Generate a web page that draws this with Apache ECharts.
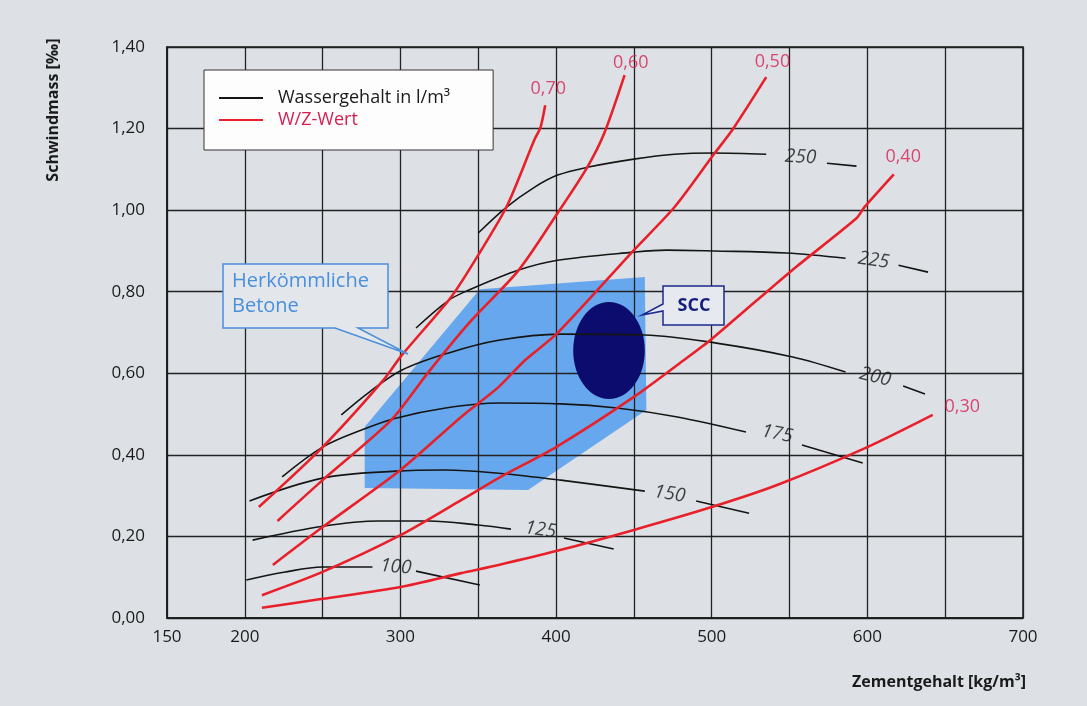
<!DOCTYPE html>
<html>
<head>
<meta charset="utf-8">
<script src="https://cdn.jsdelivr.net/npm/echarts@6/dist/echarts.min.js"></script>
<style>html,body{margin:0;padding:0;background:#dde1e6}#c{width:1087px;height:706px}</style>
</head>
<body>
<div id="c"></div>
<script>
// ---- tick labels ----
const xTickLabels = [150, 200, 300, 400, 500, 600, 700];
const yTickMin = 0, yTickMax = 1.4, yTickStep = 0.2;

// ---- water content curves (Wassergehalt in l/m³), null = gap for label ----
const water250 = [[350,0.944],[368,1.007],[386,1.056],[401,1.086],[420,1.105],[450,1.125],[476,1.137],[501,1.140],[535,1.137],null,[574,1.115],[593,1.108]];
const water225 = [[310,0.711],[331,0.779],[344,0.804],[376,0.853],[401,0.877],[450,0.897],[471,0.902],[501,0.900],[548,0.895],[586,0.882],null,[620,0.865],[639,0.848]];
const water200 = [[262,0.498],[280,0.554],[301,0.608],[331,0.650],[363,0.681],[403,0.696],[457,0.694],[503,0.674],[552,0.640],[586,0.603],null,[623,0.569],[637,0.549]];
const water175 = [[224,0.346],[250,0.419],[275,0.461],[297,0.490],[329,0.515],[363,0.527],[403,0.525],[439,0.515],[478,0.493],[522,0.456],null,[558,0.424],[597,0.380]];
const water150 = [[203,0.287],[250,0.343],[297,0.360],[329,0.363],[363,0.355],[403,0.338],[457,0.311],null,[490,0.287],[524,0.257]];
const water125 = [[205,0.191],[250,0.225],[286,0.238],[318,0.238],[350,0.228],[371,0.218],null,[405,0.196],[437,0.169]];
const water100 = [[201,0.093],[225,0.112],[250,0.125],[282,0.125],null,[310,0.115],[351,0.081]];
const waterCurves = [water250, water225, water200, water175, water150, water125, water100];
const waterLabelText = ['250','225','200','175','150','125','100'];
const waterLabelX = [557, 604, 605, 542, 473, 390, 297];
const waterLabelY = [1.130, 0.877, 0.591, 0.451, 0.304, 0.216, 0.125];
const waterLabelAngle = [-3, -8, -14, -11, -9, -8, -5];

// ---- W/Z curves ----
const wz70 = [[209,0.272],[250,0.419],[289,0.583],[301,0.645],[331,0.779],[344,0.853],[368,1.007],[386,1.172],[390,1.203],[393,1.257]];
const wz60 = [[221,0.238],[250,0.338],[294,0.485],[318,0.603],[344,0.723],[376,0.853],[401,0.993],[420,1.105],[431,1.189],[444,1.331]];
const wz50 = [[218,0.130],[250,0.223],[300,0.363],[339,0.493],[363,0.566],[380,0.632],[401,0.699],[450,0.902],[476,1.007],[501,1.135],[514,1.201],[535,1.326]];
const wz40 = [[211,0.056],[250,0.113],[300,0.203],[339,0.289],[363,0.343],[400,0.419],[450,0.542],[482,0.632],[499,0.681],[529,0.779],[554,0.860],[593,0.980],[598,1.007],[617,1.088]];
const wz30 = [[211,0.025],[250,0.047],[300,0.076],[339,0.110],[363,0.130],[400,0.164],[450,0.216],[500,0.272],[542,0.326],[600,0.419],[642,0.498]];
const wzCurves = [wz70, wz60, wz50, wz40, wz30];
const wzLabelText = ['0,70','0,60','0,50','0,40','0,30'];
const wzLabelX = [395, 448, 539, 623, 661];
const wzLabelY = [1.297, 1.360, 1.363, 1.130, 0.517];

// ---- regions ----
const regionX = [277, 351, 457, 458, 382, 277];
const regionY = [0.468, 0.806, 0.836, 0.510, 0.314, 0.319];
const sccCenter = [434, 0.656];
const sccRadius = [23, 0.119];

const FONT = 'Open Sans';
const WATER_NAME = 'Wassergehalt in l/m³';
const WZ_NAME = 'W/Z-Wert';
const RED = '#e8202a';
const RED_TEXT = '#d81e50';
const BLACK = '#151515';

const chart = echarts.init(document.getElementById('c'), null, {renderer: 'canvas'});

const series = [];
series.push({
  type: 'custom', name: 'region', coordinateSystem: 'cartesian2d', z: 0, silent: true,
  data: [[regionX[0], regionY[0]]],
  renderItem: (p, api) => ({
    type: 'polygon',
    shape: {points: regionX.map((x, i) => api.coord([x, regionY[i]]))},
    style: {fill: '#67a7ed'}
  })
});
series.push({
  type: 'custom', name: 'scc', coordinateSystem: 'cartesian2d', z: 2, silent: true,
  data: [sccCenter],
  renderItem: (p, api) => {
    const c = api.coord(sccCenter);
    const s = api.size(sccRadius);
    return {type: 'ellipse', shape: {cx: c[0], cy: c[1], rx: s[0], ry: s[1]}, style: {fill: '#0c0c6e'}};
  }
});
waterCurves.forEach(d => series.push({
  type: 'line', name: WATER_NAME, data: d, smooth: 0.35, showSymbol: false, symbol: 'none',
  z: 3, connectNulls: false, silent: true,
  lineStyle: {color: BLACK, width: 1.6}, itemStyle: {color: BLACK}
}));
wzCurves.forEach(d => series.push({
  type: 'line', name: WZ_NAME, data: d, smooth: 0.25, showSymbol: false, symbol: 'none',
  z: 3, silent: true,
  lineStyle: {color: RED, width: 2.6}, itemStyle: {color: RED}
}));
series.push({
  type: 'scatter', name: 'waterLabels', z: 4, symbolSize: 1, silent: true,
  itemStyle: {color: 'rgba(0,0,0,0)'},
  data: waterLabelText.map((t, i) => ({name: t, value: [waterLabelX[i], waterLabelY[i]], label: {rotate: waterLabelAngle[i]}})),
  label: {show: true, position: 'inside', formatter: p => p.name, fontSize: 19, fontStyle: 'italic', fontFamily: FONT, color: BLACK}
});
series.push({
  type: 'scatter', name: 'wzLabels', z: 4, symbolSize: 1, silent: true,
  itemStyle: {color: 'rgba(0,0,0,0)'},
  data: wzLabelText.map((t, i) => ({name: t, value: [wzLabelX[i], wzLabelY[i]]})),
  label: {show: true, position: 'inside', formatter: p => p.name, fontSize: 18, fontFamily: FONT, color: RED_TEXT}
});

const option = {
  animation: false,
  backgroundColor: '#dde1e6',
  grid: {left: 167, right: 64, top: 47, bottom: 88, show: true, borderColor: '#1a1a1a', borderWidth: 1.5, backgroundColor: 'transparent'},
  xAxis: {
    type: 'value', min: 150, max: 700, interval: 50, z: 1,
    axisLine: {show: true, lineStyle: {color: '#1a1a1a', width: 1.5}},
    axisTick: {show: false},
    splitLine: {show: true, lineStyle: {color: '#222', width: 1.3}},
    axisLabel: {
      margin: 11, fontSize: 17, fontFamily: FONT, color: '#1a1a1a',
      showMinLabel: true, showMaxLabel: true,
      formatter: v => xTickLabels.includes(v) ? String(v) : ''
    }
  },
  yAxis: {
    type: 'value', min: yTickMin, max: yTickMax, interval: yTickStep, z: 1,
    axisLine: {show: true, lineStyle: {color: '#1a1a1a', width: 1.5}},
    axisTick: {show: false},
    splitLine: {show: true, lineStyle: {color: '#222', width: 1.3}},
    axisLabel: {
      margin: 22, fontSize: 17, fontFamily: FONT, color: '#1a1a1a',
      formatter: v => v.toFixed(2).replace('.', ',')
    }
  },
  legend: {
    left: 204, top: 70, orient: 'vertical', z: 10, selectedMode: false,
    data: [{name: WATER_NAME}, {name: WZ_NAME, textStyle: {color: RED_TEXT}}],
    itemWidth: 44, itemHeight: 14, itemGap: 4,
    itemStyle: {opacity: 0, borderWidth: 0},
    backgroundColor: '#fdfdfd', borderColor: '#333', borderWidth: 1,
    padding: [19, 43, 21, 14],
    textStyle: {fontSize: 18, fontFamily: FONT, color: '#1a1a1a', padding: [0, 0, 0, 10]}
  },
  graphic: [
    {
      type: 'polygon', z: 10, silent: true,
      shape: {points: [[223,264],[388,264],[388,328],[358,328],[408,354],[335,328],[223,328]]},
      style: {fill: '#e3e7ec', stroke: '#4a8fdc', lineWidth: 1.5}
    },
    {
      type: 'text', z: 11, left: 232, top: 269, silent: true,
      style: {text: 'Herkömmliche\nBetone', fill: '#4a8fdc', font: '20px "Open Sans"', lineHeight: 25}
    },
    {
      type: 'polygon', z: 10, silent: true,
      shape: {points: [[663,286],[724,286],[724,325],[663,325],[663,311],[642,315],[663,304]]},
      style: {fill: '#e6eaf0', stroke: '#1b2a8c', lineWidth: 1.5}
    },
    {
      type: 'text', z: 11, x: 694, y: 306, silent: true,
      style: {text: 'SCC', fill: '#141e7a', font: 'bold 18px "Open Sans"', textAlign: 'center', textVerticalAlign: 'middle', align: 'center', verticalAlign: 'middle'}
    },
    {
      type: 'text', z: 11, x: 53, y: 110, rotation: Math.PI / 2, silent: true,
      style: {text: 'Schwindmass [‰]', fill: '#1a1a1a', font: 'bold 16px "Open Sans"', textAlign: 'center', textVerticalAlign: 'middle', align: 'center', verticalAlign: 'middle'}
    },
    {
      type: 'text', z: 11, x: 1026, y: 682, silent: true,
      style: {text: 'Zementgehalt [kg/m³]', fill: '#1a1a1a', font: 'bold 16px "Open Sans"', textAlign: 'right', textVerticalAlign: 'middle', align: 'right', verticalAlign: 'middle'}
    }
  ],
  series: series
};
chart.setOption(option);
</script>
</body>
</html>
